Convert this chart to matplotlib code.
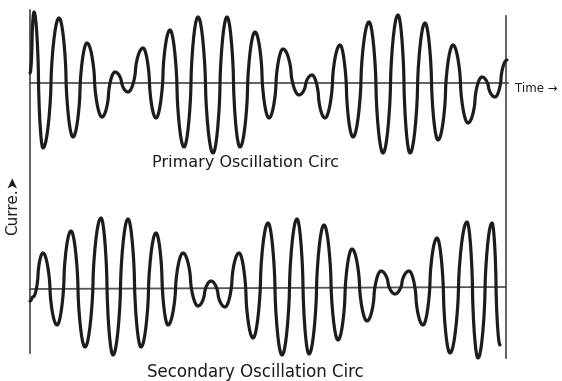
import matplotlib
matplotlib.use('Agg')
import matplotlib.pyplot as plt
import numpy as np

# Extremes of each trace: time (arbitrary units) and
# current (arbitrary units, 0 = the time axis). First/last items are the ends.
prim_t = [-1, 3, 12, 28, 42, 56, 71, 84, 97, 112, 125, 139, 153, 167, 182,
          196, 209, 224, 238, 252, 268, 281, 294, 309, 322, 338, 352, 367,
          379, 394, 407, 422, 437, 451, 464, 476]
prim_i = [10, 71, -65, 65, -54, 40, -34, 11, -9, 35, -35, 53, -64, 66, -70,
          66, -64, 51, -35, 34, -12, 8, -35, 38, -54, 61, -70, 68,
          -70, 60, -57, 38, -40, 6, -14, 23]

sec_t = [-1, 2, 12, 26, 40, 54, 70, 82, 97, 110, 125, 137, 152, 167, 180,
         194, 208, 222, 237, 251, 266, 278, 293, 307, 321, 336, 350, 364,
         378, 392, 406, 419, 436, 447, 461, 469]
sec_i = [-13, -9, 35, -37, 57, -59, 70, -67, 69, -59, 55, -37, 35, -18, 7,
         -19, 35, -50, 65, -67, 69, -66, 63, -52, 39, -33, 17, -6,
         17, -37, 50, -65, 66, -70, 65, -57]

labels = {'top': 'Primary Oscillation Circ',
          'bottom': 'Secondary Oscillation Circ',
          'x': 'Time \u2192',
          'y': 'Curre.\u27a4'}

INK = '#1c1c1c'


def smooth_wave(t, a, n=30, p=0.65):
    # join the extremes with rounded swings (fat tops, steep sides)
    xs, ys = [t[0]], [a[0]]
    for k in range(len(t) - 1):
        s = np.linspace(0, 1, n)[1:]
        c = np.cos(np.pi * s)
        c = np.sign(c) * np.abs(c) ** p
        xs.extend(t[k] + (t[k + 1] - t[k]) * s)
        ys.extend((a[k] + a[k + 1]) / 2 + (a[k] - a[k + 1]) / 2 * c)
    return np.array(xs), np.array(ys)


fig = plt.figure(figsize=(5.62, 3.81), dpi=100)
fig.patch.set_facecolor('white')

ax1 = fig.add_axes([0, 1 - 190 / 381, 1, 190 / 381])
ax2 = fig.add_axes([0, 0, 1, 191 / 381])
ax1.set_xlim(-31, 531)
ax1.set_ylim(-107, 83)
ax2.set_xlim(-31, 531)
ax2.set_ylim(-93, 98)

for ax in (ax1, ax2):
    ax.set_axis_off()

# time axes
ax1.plot([-1, 477], [0, 0], color='#555555', lw=1.3)
ax2.plot([-1, 474], [-1, 1], color='#555555', lw=1.3)

# vertical frame lines (left = current axis)
ax1.plot([-1, -1], [73, -107], color='#444444', lw=1.2)
ax2.plot([-1, -1], [98, -65], color='#444444', lw=1.2)
ax1.plot([475, 475], [67, -107], color='#444444', lw=1.2)
ax2.plot([475, 475], [98, -70], color='#444444', lw=1.2)

x, y = smooth_wave(prim_t, prim_i)
ax1.plot(x, y, color=INK, lw=2.3, solid_capstyle='round', solid_joinstyle='round')
x, y = smooth_wave(sec_t, sec_i)
ax2.plot(x, y, color=INK, lw=2.3, solid_capstyle='round', solid_joinstyle='round')

ax1.text(215, -80, labels['top'], ha='center', va='center', fontsize=11.5,
         color=INK)
ax2.text(224, -84, labels['bottom'], ha='center', va='center', fontsize=12,
         color=INK)
ax1.text(484, -5, labels['x'], ha='left', va='center', fontsize=8.5,
         color=INK)
fig.text(13 / 562, 1 - 205 / 381, labels['y'], rotation=90, ha='center',
         va='center', fontsize=11, color=INK)

fig.savefig('out.png', dpi=100, facecolor='white')
